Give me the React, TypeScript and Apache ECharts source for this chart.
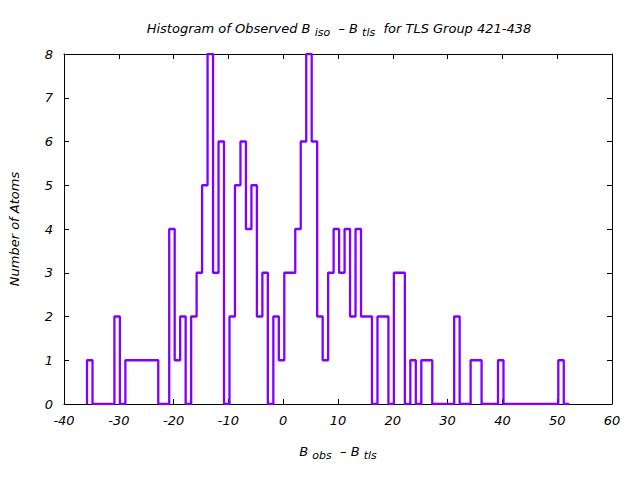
import React, { useEffect, useRef } from "react";
import * as echarts from "echarts";

const binStart = -35.8;
const binWidth = 1;
const counts = [
  1, 0, 0, 0, 0, 2, 0, 1, 1, 1, 1, 1, 1, 0, 0, 4, 1, 2, 0, 2,
  3, 5, 8, 3, 6, 0, 2, 5, 6, 4, 5, 2, 3, 0, 2, 1, 3, 3, 4, 6,
  8, 6, 2, 1, 3, 4, 3, 4, 2, 4, 2, 2, 0, 2, 2, 0, 3, 3, 0, 1,
  0, 1, 1, 0, 0, 0, 0, 2, 0, 0, 1, 1, 0, 0, 0, 1, 0, 0, 0, 0,
  0, 0, 0, 0, 0, 0, 1, 0,
];
const xTicks = [-40, 60, 10];
const yTicks = [0, 8, 1];

const FONT = "DejaVu Sans";

export default function App() {
  const ref = useRef<HTMLDivElement>(null);
  useEffect(() => {
    const chart = echarts.init(ref.current!, undefined, { renderer: "svg" });
    const pts: number[][] = [[binStart, 0]];
    counts.forEach((c, i) => pts.push([binStart + i * binWidth, c]));
    pts.push([binStart + counts.length * binWidth, counts[counts.length - 1]]);

    const axisCommon = {
      axisLine: { show: true, onZero: false, lineStyle: { color: "#000", width: 1 } },
      axisTick: { show: true, inside: true, length: 5, lineStyle: { color: "#000" } },
      splitLine: { show: false },
    };
    const labelStyle = {
      color: "#000",
      fontSize: 13,
      fontStyle: "italic" as const,
      fontWeight: "normal" as const,
      fontFamily: FONT,
    };
    const sub = { fontSize: 11, fontStyle: "italic", fontWeight: "normal", fontFamily: FONT, color: "#000", lineHeight: 11, verticalAlign: "bottom" };
    const norm = { fontSize: 13, fontStyle: "italic", fontWeight: "normal", fontFamily: FONT, color: "#000", lineHeight: 19, verticalAlign: "middle" };

    chart.setOption({
      animation: false,
      backgroundColor: "#fff",
      title: {
        text: "{a|Histogram of Observed B }{s|iso}{a|  \u2013 B }{s|tls}{a|  for TLS Group 421-438}",
        left: 334,
        top: 14,
        textAlign: "center",
        textStyle: { fontWeight: "normal", rich: { a: norm, s: sub } },
      },
      grid: { left: 58, right: 28, top: 54, bottom: 76 },
      xAxis: [
        {
          type: "value",
          min: xTicks[0],
          max: xTicks[1],
          interval: xTicks[2],
          position: "bottom",
          ...axisCommon,
          axisLabel: { ...labelStyle, margin: 10 },
          name: "{a|B }{s|obs}{a|  \u2013 B }{s|tls}",
          nameLocation: "middle",
          nameGap: 38,
          nameTextStyle: { rich: { a: norm, s: sub } },
        },
        {
          type: "value",
          min: xTicks[0],
          max: xTicks[1],
          interval: xTicks[2],
          position: "top",
          ...axisCommon,
          axisLabel: { show: false },
        },
      ],
      yAxis: [
        {
          type: "value",
          min: yTicks[0],
          max: yTicks[1],
          interval: yTicks[2],
          position: "left",
          ...axisCommon,
          axisLabel: { ...labelStyle, margin: 11 },
          name: "Number of Atoms",
          nameLocation: "middle",
          nameGap: 43,
          nameRotate: 90,
          nameTextStyle: { ...labelStyle },
        },
        {
          type: "value",
          min: yTicks[0],
          max: yTicks[1],
          interval: yTicks[2],
          position: "right",
          ...axisCommon,
          axisLabel: { show: false },
        },
      ],
      series: [
        {
          type: "line",
          step: "end",
          data: pts,
          showSymbol: false,
          symbol: "none",
          lineStyle: { color: "#8000ff", width: 2.3 },
          xAxisIndex: 0,
          yAxisIndex: 0,
        },
      ],
    });
    return () => chart.dispose();
  }, []);
  return <div ref={ref} style={{ width: 640, height: 480, position: "absolute", left: 0, top: 0 }} />;
}
